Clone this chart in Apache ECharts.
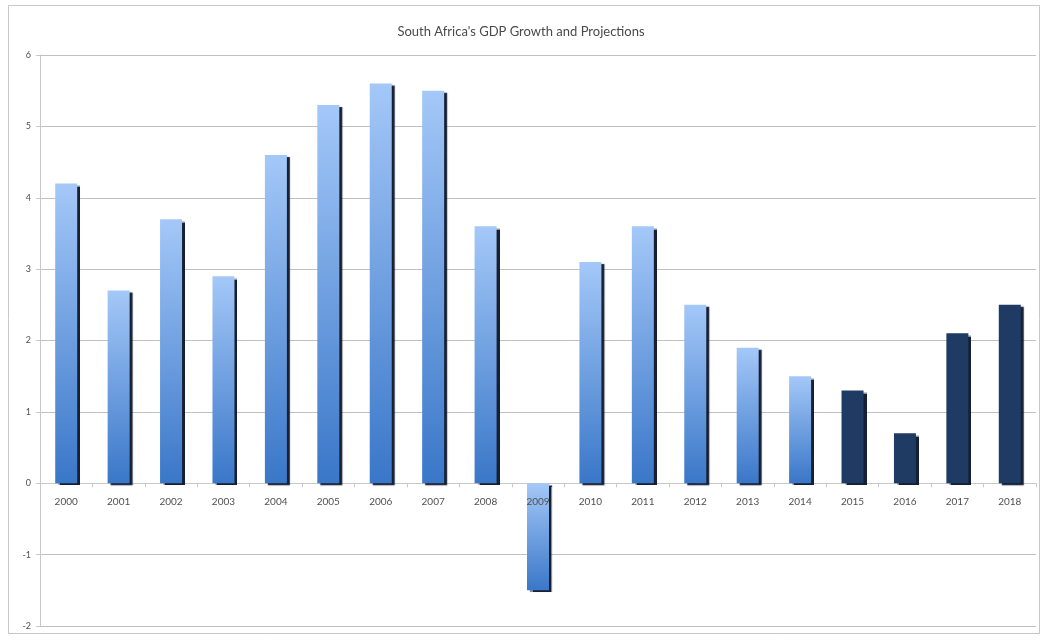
<!DOCTYPE html>
<html>
<head>
<meta charset="utf-8">
<script src="https://cdn.jsdelivr.net/npm/echarts@6/dist/echarts.min.js"></script>
<style>
  html, body { margin: 0; padding: 0; background: #fff; }
  #chart { width: 1042px; height: 640px; }
</style>
</head>
<body>
<div id="chart"></div>
<script>
// Annual real GDP growth (%), with projections from 2015 onward
const years = ['2000','2001','2002','2003','2004','2005','2006','2007','2008','2009',
               '2010','2011','2012','2013','2014','2015','2016','2017','2018'];
const growth = [4.2, 2.7, 3.7, 2.9, 4.6, 5.3, 5.6, 5.5, 3.6, -1.5,
                3.1, 3.6, 2.5, 1.9, 1.5, 1.3, 0.7, 2.1, 2.5];
const projected = [false, false, false, false, false, false, false, false, false, false,
                   false, false, false, false, false, true, true, true, true];
const yTicks = [-2, -1, 0, 1, 2, 3, 4, 5, 6];

const actualFill = new echarts.graphic.LinearGradient(0, 0, 0, 1, [
  { offset: 0, color: '#a4c8f8' },
  { offset: 1, color: '#3a77c8' }
]);
const projectedFill = '#1f3b64';

// plot box
const gridTop = 55, gridBottom = 14, chartH = 640;
const plotH = chartH - gridTop - gridBottom;
const yMin = yTicks[0], yMax = yTicks[yTicks.length - 1];
// distance from the bottom of the plot up to the zero line, for the year labels
const zeroLift = plotH * (0 - yMin) / (yMax - yMin);

const chart = echarts.init(document.getElementById('chart'), null, { renderer: 'canvas' });

chart.setOption({
  backgroundColor: '#ffffff',
  animation: false,
  title: {
    text: "South Africa's GDP Growth and Projections",
    left: 'center',
    top: 20,
    textStyle: { fontFamily: 'Lato', fontSize: 13, fontWeight: 'normal', color: '#4a4a4a' }
  },
  graphic: [{
    type: 'rect',
    shape: { x: 8.5, y: 5.5, width: 1031, height: 628 },
    style: { fill: 'none', stroke: '#c8c8c8', lineWidth: 1 },
    silent: true
  }],
  grid: { left: 40, right: 6, top: gridTop, bottom: gridBottom, containLabel: false, outerBoundsMode: 'none' },
  xAxis: [{
    type: 'category',
    data: years,
    axisLine: { onZero: true, onZeroAxisIndex: 0, lineStyle: { color: '#c8c8c8', width: 1 } },
    axisTick: { show: true, length: 4, lineStyle: { color: '#c8c8c8' } },
    axisLabel: { show: false },
    z: 1
  }, {
    // year labels sitting just under the zero line, drawn above the bars
    type: 'category',
    data: years,
    position: 'bottom',
    offset: -zeroLift,
    axisLine: { show: false, onZero: false },
    axisTick: { show: false },
    axisLabel: { fontFamily: 'Lato', fontSize: 10, color: '#505050', margin: 14 },
    splitLine: { show: false },
    z: 10
  }],
  yAxis: {
    type: 'value',
    min: yMin,
    max: yMax,
    interval: 1,
    axisLine: { show: true, lineStyle: { color: '#c8c8c8' } },
    axisTick: { show: true, length: 4, lineStyle: { color: '#c8c8c8' } },
    axisLabel: { fontFamily: 'Lato', fontSize: 9, color: '#505050', margin: 9 },
    splitLine: { lineStyle: { color: '#c0c0c0', width: 1 } }
  },
  series: [{
    type: 'bar',
    xAxisIndex: 0,
    barWidth: 22,
    z: 3,
    data: growth.map((v, i) => ({
      value: v,
      itemStyle: { color: projected[i] ? projectedFill : actualFill }
    })),
    itemStyle: {
      shadowColor: 'rgba(10, 20, 40, 0.95)',
      shadowBlur: 1,
      shadowOffsetX: 3,
      shadowOffsetY: 2
    }
  }]
});
</script>
</body>
</html>
